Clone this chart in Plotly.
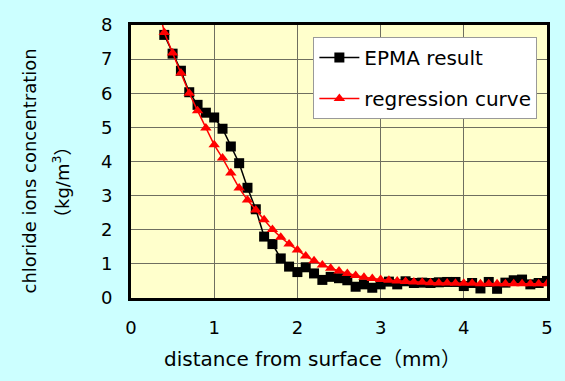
import plotly.graph_objects as go

# distance from surface (mm)
epma_x = [0.4, 0.5, 0.6, 0.7, 0.8, 0.9, 1.0, 1.1, 1.2, 1.3, 1.4, 1.5, 1.6, 1.7, 1.8, 1.9,
          2.0, 2.1, 2.2, 2.3, 2.4, 2.5, 2.6, 2.7, 2.8, 2.9, 3.0, 3.1, 3.2, 3.3, 3.4, 3.5,
          3.6, 3.7, 3.8, 3.9, 4.0, 4.1, 4.2, 4.3, 4.4, 4.5, 4.6, 4.7, 4.8, 4.9, 5.0]
epma_y = [7.71, 7.16, 6.66, 6.03, 5.66, 5.43, 5.29, 4.96, 4.44, 3.95, 3.23, 2.60, 1.80, 1.58,
          1.16, 0.92, 0.76, 0.90, 0.72, 0.53, 0.62, 0.58, 0.52, 0.33, 0.40, 0.30, 0.40, 0.48,
          0.40, 0.49, 0.44, 0.45, 0.44, 0.46, 0.47, 0.47, 0.35, 0.44, 0.28, 0.47, 0.27, 0.45,
          0.52, 0.54, 0.40, 0.44, 0.50]

reg_x = [0.3, 0.4, 0.5, 0.6, 0.7, 0.8, 0.9, 1.0, 1.1, 1.2, 1.3, 1.4, 1.5, 1.6, 1.7, 1.8, 1.9,
         2.0, 2.1, 2.2, 2.3, 2.4, 2.5, 2.6, 2.7, 2.8, 2.9, 3.0, 3.1, 3.2, 3.3, 3.4, 3.5,
         3.6, 3.7, 3.8, 3.9, 4.0, 4.1, 4.2, 4.3, 4.4, 4.5, 4.6, 4.7, 4.8, 4.9, 5.0]
reg_y = [8.9, 7.78, 7.18, 6.59, 6.00, 5.49, 4.98, 4.49, 4.10, 3.66, 3.22, 2.87, 2.58, 2.29, 2.01,
         1.78, 1.58, 1.41, 1.23, 1.09, 0.97, 0.87, 0.79, 0.72, 0.66, 0.61, 0.57, 0.54, 0.52,
         0.50, 0.48, 0.47, 0.46, 0.45, 0.44, 0.44, 0.43, 0.43, 0.43, 0.42, 0.42, 0.42, 0.42,
         0.42, 0.42, 0.42, 0.42, 0.42]

x_ticks = [0, 1, 2, 3, 4, 5]
y_ticks = [0, 1, 2, 3, 4, 5, 6, 7, 8]

x_title = "distance from surface（mm）"
y_title_1 = "chloride ions concentration"
y_title_2 = "（kg/m<sup>3</sup>）"

FONT = "DejaVu Sans, Noto Sans CJK JP, sans-serif"

fig = go.Figure()
fig.add_trace(go.Scatter(
    x=epma_x, y=epma_y, mode="lines+markers", name="EPMA result",
    line=dict(color="black", width=1.5),
    marker=dict(symbol="square", size=10, color="black"),
    legendgroup="a", cliponaxis=True))
fig.add_trace(go.Scatter(
    x=reg_x, y=reg_y, mode="lines+markers", name="regression curve",
    line=dict(color="#FF0000", width=1.5),
    marker=dict(symbol="triangle-up", size=10, color="#FF0000"),
    legendgroup="b", cliponaxis=True))

fig.update_layout(
    width=565, height=381,
    margin=dict(l=131, r=12, t=25, b=83),
    paper_bgcolor="#CCFFFF",
    plot_bgcolor="#FFFFCC",
    font=dict(family=FONT, size=17, color="black"),
    showlegend=True,
    legend=dict(
        x=(316 - 131) / 422, y=(298 - 37) / 273, xanchor="left", yanchor="top",
        bgcolor="white", bordercolor="#999999", borderwidth=1,
        font=dict(family=FONT, size=20),
        tracegroupgap=12, itemwidth=40, traceorder="grouped",
    ),
    xaxis=dict(
        range=[0, 5], tickvals=x_ticks, ticks="", showgrid=True,
        gridcolor="#6f6f60", gridwidth=1,
        showline=True, linecolor="black", linewidth=3, mirror=True,
        zeroline=False, ticklabelstandoff=11,
        tickfont=dict(size=18),
    ),
    yaxis=dict(
        range=[0, 8], tickvals=y_ticks, ticks="", showgrid=True,
        gridcolor="#6f6f60", gridwidth=1,
        showline=True, linecolor="black", linewidth=3, mirror=True,
        zeroline=False, ticklabelstandoff=12,
        tickfont=dict(size=18),
    ),
    annotations=[
        dict(text=x_title, xref="paper", yref="paper", x=(315 - 131) / 422,
             y=(298 - 359) / 273, xanchor="center", yanchor="middle",
             showarrow=False, font=dict(family=FONT, size=20)),
        dict(text=y_title_1, xref="paper", yref="paper", x=-(131 - 28) / 422,
             y=(298 - 171) / 273, xanchor="center", yanchor="middle", textangle=-90,
             showarrow=False, font=dict(family=FONT, size=18)),
        dict(text=y_title_2, xref="paper", yref="paper", x=-(131 - 60) / 422,
             y=(298 - 183) / 273, xanchor="center", yanchor="middle", textangle=-90,
             showarrow=False, font=dict(family=FONT, size=18)),
    ],
)

fig.write_html("out.html")
